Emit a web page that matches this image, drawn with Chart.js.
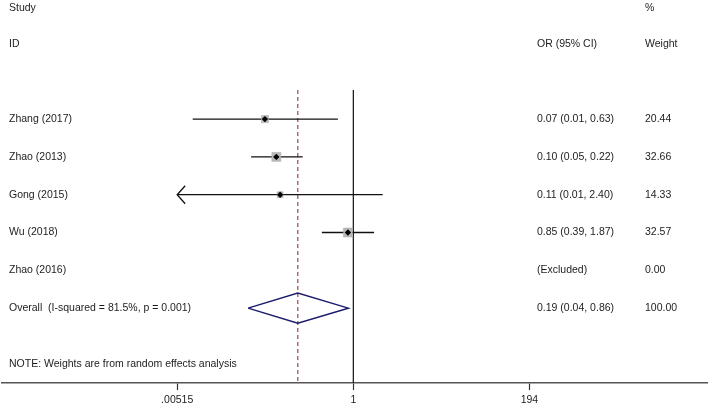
<!DOCTYPE html>
<html>
<head>
<meta charset="utf-8">
<script src="https://cdn.jsdelivr.net/npm/chart.js@4.4.0/dist/chart.umd.min.js"></script>
<style>
  html, body { margin: 0; padding: 0; background: #fff; }
</style>
</head>
<body>
<canvas id="forest" width="709" height="406"></canvas>
<script>
'use strict';

// study rows (top to bottom)
const studies = ['Zhang (2017)', 'Zhao (2013)', 'Gong (2015)', 'Wu (2018)', 'Zhao (2016)'];
const orEst = [0.071, 0.10, 0.112, 0.85, null];
const orLow = [0.0082, 0.047, 0.005, 0.39, null];
const orHigh = [0.63, 0.22, 2.41, 1.86, null];
const ciLabels = ['0.07 (0.01, 0.63)', '0.10 (0.05, 0.22)', '0.11 (0.01, 2.40)', '0.85 (0.39, 1.87)', '(Excluded)'];
const weights = [20.44, 32.66, 14.33, 32.57, 0.00];
const weightLabels = ['20.44', '32.66', '14.33', '32.57', '0.00'];

// pooled estimate
const overallLabel = 'Overall  (I-squared = 81.5%, p = 0.001)';
const overallEst = 0.19;
const overallLow = 0.043;
const overallHigh = 0.86;
const overallCi = '0.19 (0.04, 0.86)';
const overallWeight = '100.00';

const noteText = 'NOTE: Weights are from random effects analysis';

// x axis
const tickValues = [0.00515, 1, 194];
const tickLabels = ['.00515', '1', '194'];

const overallRow = studies.length;
const rowTop = -3.15, rowBottom = 6.98;
const refTop = -0.77;
const diamondHalf = 0.4;
const font = '10.5px "Liberation Sans", Arial, sans-serif';
const textColor = '#1c1c1c';

// CI line per study, clipped at the axis minimum
const ciSets = studies.map((s, i) => {
  if (orEst[i] == null) return null;
  return {
    type: 'line',
    order: 2,
    data: [{x: Math.max(orLow[i], tickValues[0]), y: i}, {x: orHigh[i], y: i}],
    borderColor: '#111',
    borderWidth: 1.3,
    pointRadius: 0
  };
}).filter(d => d);

const boxPoints = [];
const estPoints = [];
const boxRadius = [];
studies.forEach((s, i) => {
  if (orEst[i] == null) return;
  boxPoints.push({x: orEst[i], y: i});
  boxRadius.push(1.11 * Math.sqrt(weights[i]));
  estPoints.push({x: orEst[i], y: i});
});

const textPlugin = {
  id: 'forestText',
  afterDraw(chart) {
    const ctx = chart.ctx;
    const xs = chart.scales.x;
    const ys = chart.scales.y;
    ctx.save();
    ctx.font = font;
    ctx.fillStyle = textColor;
    ctx.textBaseline = 'middle';
    ctx.textAlign = 'left';
    const put = (t, x, row) => ctx.fillText(t, x, ys.getPixelForValue(row));

    put('Study', 9, -2.94);
    put('%', 645, -2.94);
    put('ID', 9, -1.98);
    put('OR (95% CI)', 537, -1.98);
    put('Weight', 645, -1.98);

    studies.forEach((s, i) => {
      put(s, 9, i);
      put(ciLabels[i], 537, i);
      put(weightLabels[i], 645, i);
    });
    put(overallLabel, 9, overallRow);
    put(overallCi, 537, overallRow);
    put(overallWeight, 645, overallRow);
    put(noteText, 9, 6.48);

    // arrow heads where the CI runs past the axis
    ctx.strokeStyle = '#111';
    ctx.lineWidth = 1.3;
    studies.forEach((s, i) => {
      if (orLow[i] != null && orLow[i] < tickValues[0]) {
        const x = xs.getPixelForValue(tickValues[0]);
        const y = ys.getPixelForValue(i);
        ctx.beginPath();
        ctx.moveTo(x + 8, y - 9);
        ctx.lineTo(x, y);
        ctx.lineTo(x + 8, y + 9);
        ctx.stroke();
      }
    });
    ctx.restore();
  }
};

new Chart(document.getElementById('forest'), {
  type: 'line',
  data: {
    datasets: [
      {
        order: 3,
        data: [{x: 1, y: refTop}, {x: 1, y: rowBottom}],
        borderColor: '#111',
        borderWidth: 1.2,
        pointRadius: 0
      },
      {
        order: 3,
        data: [{x: overallEst, y: refTop}, {x: overallEst, y: rowBottom}],
        borderColor: '#9c4a52',
        borderWidth: 1.2,
        borderDash: [4, 3],
        pointRadius: 0
      },
      ...ciSets,
      {
        order: 1,
        data: boxPoints,
        showLine: false,
        pointStyle: 'rect',
        pointRadius: boxRadius,
        backgroundColor: '#b9b9b9',
        borderColor: '#a9a9a9',
        borderWidth: 0.5
      },
      {
        order: 0,
        data: estPoints,
        showLine: false,
        pointStyle: 'rectRot',
        pointRadius: 3.2,
        backgroundColor: '#000',
        borderColor: '#000',
        borderWidth: 0
      },
      {
        order: 2,
        data: [
          {x: overallLow, y: overallRow},
          {x: overallEst, y: overallRow - diamondHalf},
          {x: overallHigh, y: overallRow},
          {x: overallEst, y: overallRow + diamondHalf},
          {x: overallLow, y: overallRow}
        ],
        borderColor: '#1b1b6b',
        borderWidth: 1.5,
        pointRadius: 0,
        fill: false
      }
    ]
  },
  options: {
    responsive: false,
    animation: false,
    layout: { autoPadding: false, padding: { left: 2, right: 2, top: 0, bottom: -3.5 } },
    plugins: { legend: { display: false }, tooltip: { enabled: false } },
    elements: { line: { tension: 0 } },
    scales: {
      x: {
        type: 'logarithmic',
        min: 2.73e-5,
        max: 3.93e4,
        afterBuildTicks: (scale) => {
          scale.ticks = tickValues.map(v => ({ value: v }));
        },
        ticks: {
          autoSkip: false,
          maxRotation: 0,
          padding: 4.5,
          color: textColor,
          font: { family: '"Liberation Sans", Arial, sans-serif', size: 10.5, lineHeight: 1 },
          callback: (v, i) => tickLabels[i]
        },
        grid: {
          drawOnChartArea: false,
          drawTicks: true,
          tickLength: 7,
          tickColor: '#333',
          tickWidth: 1.2
        },
        border: { color: '#555', width: 1.5 }
      },
      y: {
        type: 'linear',
        reverse: true,
        min: rowTop,
        max: rowBottom,
        display: false
      }
    }
  },
  plugins: [textPlugin]
});
</script>
</body>
</html>
